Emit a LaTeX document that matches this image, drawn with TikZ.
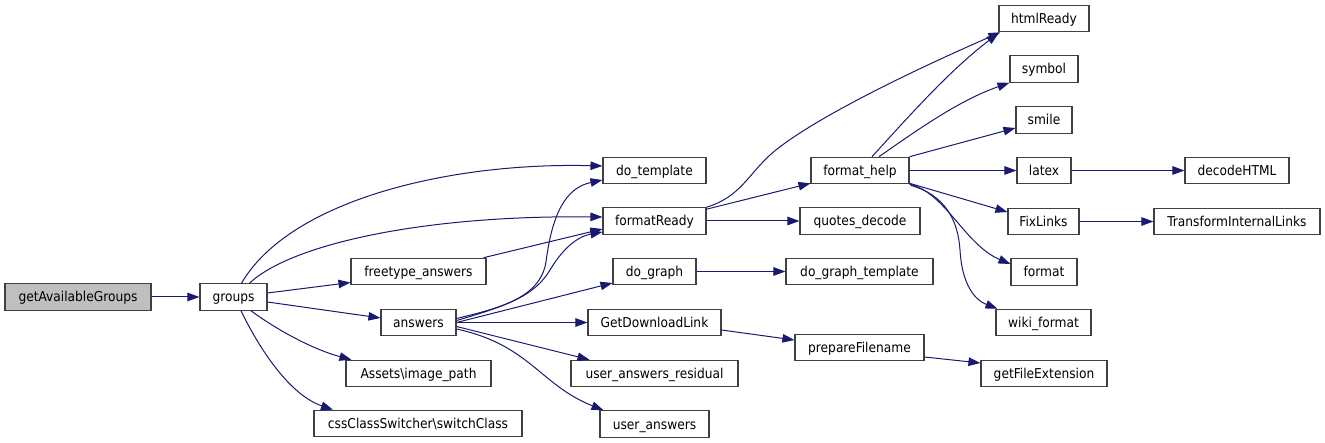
\documentclass[tikz,border=0pt]{standalone}
\usepackage{fontspec}
\setmainfont{DejaVu Sans Condensed}
\usetikzlibrary{arrows.meta,calc}
\definecolor{edgeblue}{HTML}{191970}
\definecolor{boxborder}{HTML}{404040}
\definecolor{boxgray}{HTML}{BFBFBF}
\begin{document}
\begin{tikzpicture}[x=1pt,y=-1pt,
  fn/.style={draw=boxborder, line width=1.1pt, fill=white, minimum height=26.5pt,
    inner sep=0pt, text height=10pt, text depth=0pt,
    font=\fontsize{13.6}{15}\selectfont, anchor=center},
  call/.style={draw=edgeblue, line width=1pt, -{Triangle[length=12pt,width=8.5pt]}}
]
\useasboundingbox (0,0) rectangle (1325,443);
% column 0-1
\node[fn, minimum width=146pt, fill=boxgray] (gag) at (78,297) {getAvailableGroups};
\node[fn, minimum width=67pt] (groups) at (233.5,297) {groups};
% column 2
\node[fn, minimum width=135pt] (ftans) at (418.5,271.5) {freetype\_answers};
\node[fn, minimum width=75pt] (answers) at (418.5,322.5) {answers};
\node[fn, minimum width=145pt] (assets) at (418.5,373.5) {Assets\textbackslash image\_path};
\node[fn, minimum width=208pt] (css) at (418,423.5) {cssClassSwitcher\textbackslash switchClass};
% column 3
\node[fn, minimum width=103pt] (dotpl) at (654.5,170.5) {do\_template};
\node[fn, minimum width=103pt] (fready) at (654.5,221) {formatReady};
\node[fn, minimum width=83pt] (dograph) at (654.5,271.5) {do\_graph};
\node[fn, minimum width=133pt] (gdl) at (654.5,322.5) {GetDownloadLink};
\node[fn, minimum width=167pt] (uar) at (654.5,373.5) {user\_answers\_residual};
\node[fn, minimum width=109pt] (ua) at (654.5,424) {user\_answers};
% column 4
\node[fn, minimum width=98pt] (fhelp) at (860,170.5) {format\_help};
\node[fn, minimum width=120pt] (qdec) at (860,221) {quotes\_decode};
\node[fn, minimum width=147pt] (dgt) at (859.5,271.5) {do\_graph\_template};
\node[fn, minimum width=129pt] (pfn) at (859.5,347.5) {prepareFilename};
% column 5
\node[fn, minimum width=90pt] (html) at (1044,18.5) {htmlReady};
\node[fn, minimum width=68pt] (symbol) at (1044,69) {symbol};
\node[fn, minimum width=56pt] (smile) at (1044,120) {smile};
\node[fn, minimum width=54pt] (latex) at (1044,170.5) {latex};
\node[fn, minimum width=71pt] (fix) at (1043.5,221.5) {FixLinks};
\node[fn, minimum width=66pt] (format) at (1044,272) {format};
\node[fn, minimum width=95pt] (wiki) at (1043.5,322.5) {wiki\_format};
\node[fn, minimum width=126pt] (gfe) at (1044,373.5) {getFileExtension};
% column 6
\node[fn, minimum width=104pt] (dhtml) at (1237,170.5) {decodeHTML};
\node[fn, minimum width=166pt] (til) at (1237,221.5) {TransformInternalLinks};

% edges
\draw[call] (gag.east) -- (groups.west);
\draw[call] ($(groups.north)+(8,0)$) .. controls (290,200) and (450,162) .. ($(dotpl.west)+(0,-4.5)$);
\draw[call] ($(groups.north)+(16,0)$) .. controls (290,245) and (420,215) .. ($(fready.west)+(0,-4)$);
\draw[call] ($(groups.east)+(0,-4)$) -- ($(ftans.west)+(0,11)$);
\draw[call] ($(groups.east)+(0,5)$) -- ($(answers.west)+(0,-4.5)$);
\draw[call] ($(groups.south)+(17.5,0)$) .. controls (280,332) and (315,350) .. ($(assets.north west)+(6,0)$);
\draw[call] ($(groups.south)+(7.5,0)$) .. controls (260,350) and (290,395) .. ($(css.north)+(-85,0)$);

\draw[call] ($(ftans.north east)+(-3,0)$) -- ($(fready.west)+(0,8)$);
\draw[call] ($(answers.east)+(0,-4)$) .. controls (500,308) and (540,298) .. (546,262)
   .. controls (552,215) and (565,188) .. ($(dotpl.west)+(0,9.5)$);
\draw[call] ($(answers.east)+(0,-2)$) .. controls (510,305) and (535,295) .. (550,270)
   .. controls (565,245) and (580,236) .. ($(fready.west)+(0,11)$);
\draw[call] ($(answers.east)+(0,0)$) -- ($(dograph.west)+(0,11.5)$);
\draw[call] (answers.east) -- (gdl.west);
\draw[call] ($(answers.east)+(0,4)$) -- ($(uar.north west)+(19,0)$);
\draw[call] ($(answers.east)+(0,6.5)$) .. controls (530,345) and (540,385) .. ($(ua.north west)+(4,0)$);

\draw[call] (fready.north east) .. controls (740,197) and (748,175) .. (770,155)
   .. controls (800,128) and (880,85) .. ($(html.south west)+(2,0)$);
\draw[call] ($(fready.north east)+(0,2)$) -- ($(fhelp.south west)+(0,-1)$);
\draw[call] (fready.east) -- (qdec.west);
\draw[call] (dograph.east) -- (dgt.west);
\draw[call] ($(gdl.east)+(0,7.5)$) -- ($(pfn.west)+(0,-7.5)$);
\draw[call] ($(pfn.east)+(0,9.5)$) -- ($(gfe.west)+(0,-10.5)$);

\draw[call] ($(fhelp.north)+(12,0)$) .. controls (910,115) and (950,70) .. ($(html.south west)+(0,1)$);
\draw[call] ($(fhelp.north)+(19,0)$) .. controls (920,128) and (960,100) .. ($(symbol.south west)+(0,0)$);
\draw[call] (fhelp.north east) -- ($(smile.west)+(0,8)$);
\draw[call] (fhelp.east) -- (latex.west);
\draw[call] ($(fhelp.south east)+(0,-1)$) -- ($(fix.west)+(0,-9.5)$);
\draw[call] ($(fhelp.south east)+(0,0)$) .. controls (945,192) and (965,245) .. ($(format.west)+(0,-8)$);
\draw[call] ($(fhelp.south east)+(1,1)$) .. controls (945,195) and (958,220) .. (960,250)
   .. controls (962,285) and (975,300) .. ($(wiki.north west)+(2,0)$);

\draw[call] (latex.east) -- (dhtml.west);
\draw[call] (fix.east) -- (til.west);
\end{tikzpicture}
\end{document}
